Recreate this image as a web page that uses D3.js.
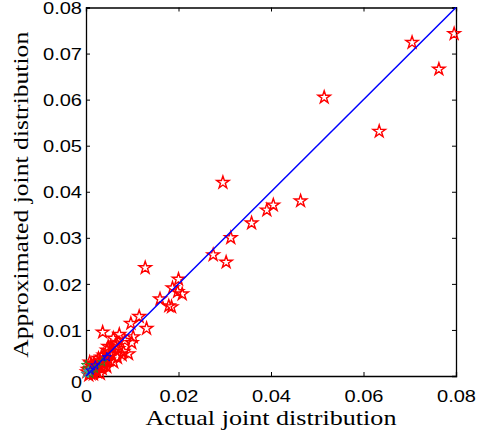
<!DOCTYPE html>
<html><head><meta charset="utf-8">
<script src="https://cdn.jsdelivr.net/npm/d3@7"></script>
<style>body{margin:0;background:#fff}svg{display:block}</style>
</head><body>
<script>
const actual = [0.0796,0.0705,0.0763,0.0515,0.0634,0.0296,0.0464,0.0405,0.0391,0.0358,0.0313,0.0275,0.0303,0.0128,0.0200,0.0187,0.0198,0.0208,0.0160,0.0179,0.0185,
0.0036,0.0097,0.0115,0.0072,0.0131,0.0102,0.0099,0.0081,0.0059,0.0048,0.0066,0.0055,0.0084,0.0063,0.0092,0.0078,0.0053,0.0042,0.0031,0.0020,0.0013,0.0070,0.0049,0.0035,0.0024,0.0006,0.0056,0.0045,0.0038,0.0027,0.0017,0.0009,0.0002,0.0060,0.0045,0.0031,0.0010,0.0015,0.0040,0.0025,0.0008,
0.0051,0.0033,0.0022,0.0012,0.0004,0.0068,0.0028,0.0043,0.0016,0.0011];
const approx = [0.0743,0.0724,0.0666,0.0605,0.0531,0.0420,0.0380,0.0371,0.0360,0.0332,0.0300,0.0263,0.0247,0.0235,0.0210,0.0191,0.0183,0.0178,0.0167,0.0152,0.0150,
0.0095,0.0114,0.0129,0.0090,0.0103,0.0085,0.0072,0.0053,0.0082,0.0064,0.0071,0.0046,0.0077,0.0066,0.0048,0.0046,0.0048,0.0038,0.0030,0.0020,0.0009,0.0059,0.0034,0.0016,0.0009,0.0002,0.0063,0.0056,0.0045,0.0038,0.0027,0.0016,0.0009,0.0030,0.0020,0.0005,0.0005,0.0012,0.0025,0.0028,0.0030,
0.0052,0.0041,0.0013,0.0021,0.0014,0.0040,0.0022,0.0031,0.0004,0.0026];
const blueX = [0.0045,0.0020,0.0010], blueY = [0.0041,0.0023,0.0012];
const greenX = [0.0000,0.0019,0.0009,0.0035], greenY = [0.0024,0.0016,0.0005,0.0030];
const cyanX = [0.0000,0.0005], cyanY = [0.0005,0.0010];
const ticks = [0,0.01,0.02,0.03,0.04,0.05,0.06,0.07,0.08];
const xTicks = [0,0.02,0.04,0.06,0.08];
const xLabel = "Actual joint distribution", yLabel = "Approximated joint distribution";

const W=482,H=434, L=86,R=456,T=7.5,B=376;
const svg=d3.select("body").append("svg").attr("width",W).attr("height",H);
const x=d3.scaleLinear().domain([0,0.08]).range([L,R]);
const y=d3.scaleLinear().domain([0,0.08]).range([B,T]);
const fmt=d=>d===0?"0":d3.format(".2f")(d);

const gx=svg.append("g").attr("transform",`translate(0,${B})`).call(d3.axisBottom(x).tickValues(xTicks).tickSize(-4).tickPadding(8).tickFormat(fmt));
const gxt=svg.append("g").attr("transform",`translate(0,${T})`).call(d3.axisTop(x).tickValues(xTicks).tickSize(-4).tickFormat(""));
const gy=svg.append("g").attr("transform",`translate(${L},0)`).call(d3.axisLeft(y).tickValues(ticks).tickSize(-4).tickPadding(7).tickFormat(fmt));
const gyr=svg.append("g").attr("transform",`translate(${R},0)`).call(d3.axisRight(y).tickValues(ticks).tickSize(-4).tickFormat(""));
[gx,gxt,gy,gyr].forEach(g=>{g.select(".domain").attr("stroke","#000").attr("stroke-width",1.3);g.selectAll(".tick line").attr("stroke","#000");});
gx.selectAll("text").attr("font-family","Liberation Sans, Arial, sans-serif").attr("font-size",17).attr("fill","#000").attr("dy",null).attr("y",26)
  .each(function(d){ d3.select(this).attr("textLength",d!==0?39:11).attr("lengthAdjust","spacingAndGlyphs");});
gy.selectAll("text").attr("font-family","Liberation Sans, Arial, sans-serif").attr("font-size",17).attr("fill","#000").attr("dy","0.36em").attr("x",-4)
  .each(function(d){ d3.select(this).attr("textLength",d!==0?39:11).attr("lengthAdjust","spacingAndGlyphs");});
gy.selectAll(".tick").filter(d=>d===0).select("text").attr("dy","0.7em");

const star=d3.symbol(d3.symbolStar).size(48);
const starSm=d3.symbol(d3.symbolStar).size(26);
const red=actual.map((a,i)=>[a,approx[i]]);
svg.append("g").selectAll("path").data(red).join("path")
  .attr("d",star).attr("transform",d=>`translate(${x(d[0])},${y(d[1])})`)
  .attr("fill","none").attr("stroke","#ff0000").attr("stroke-width",1.4);
function small(xs,ys,c){
  svg.append("g").selectAll("path").data(xs.map((a,i)=>[a,ys[i]])).join("path")
    .attr("d",starSm).attr("transform",d=>`translate(${x(d[0])},${y(d[1])})`)
    .attr("fill","none").attr("stroke",c).attr("stroke-width",1);
}
small(greenX,greenY,"#228b22");
small(cyanX,cyanY,"#20b2aa");
small(blueX,blueY,"#0000ff");

svg.append("line").attr("x1",x(0)).attr("y1",y(0)).attr("x2",x(0.08)).attr("y2",y(0.08))
  .attr("stroke","#0000ff").attr("stroke-width",1.5);

svg.append("text").attr("x",(L+R)/2).attr("y",425).attr("text-anchor","middle")
  .attr("font-family","Liberation Serif, Times New Roman, serif").attr("font-size",21)
  .attr("textLength",251).attr("lengthAdjust","spacingAndGlyphs").text(xLabel);
svg.append("text").attr("transform",`translate(28,${(T+B)/2+3}) rotate(-90)`).attr("text-anchor","middle")
  .attr("font-family","Liberation Serif, Times New Roman, serif").attr("font-size",21)
  .attr("textLength",326).attr("lengthAdjust","spacingAndGlyphs").text(yLabel);
</script>
</body></html>
